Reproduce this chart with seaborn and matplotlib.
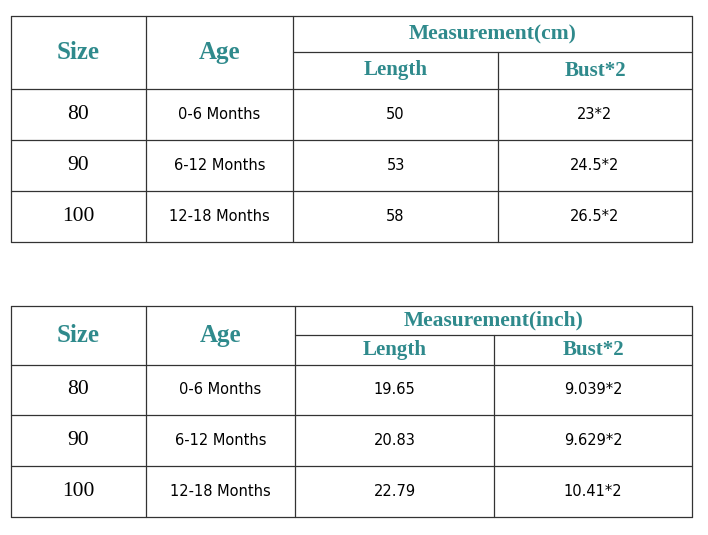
import matplotlib
matplotlib.use("Agg")
import matplotlib.pyplot as plt
import seaborn as sns

sizes = ["80", "90", "100"]
ages = ["0-6 Months", "6-12 Months", "12-18 Months"]
length_cm = ["50", "53", "58"]
bust_cm = ["23*2", "24.5*2", "26.5*2"]
length_in = ["19.65", "20.83", "22.79"]
bust_in = ["9.039*2", "9.629*2", "10.41*2"]
units = ["Measurement(cm)", "Measurement(inch)"]

sns.set_style("white")
teal = "#2f8a8c"
fig = plt.figure(figsize=(7.08, 5.35), dpi=100)
ax = fig.add_axes([0, 0, 1, 1])
ax.set_xlim(0, 708)
ax.set_ylim(535, 0)
ax.axis("off")

def table(xs, ys, unit, lengths, busts):
    x0, x1, x2, x3, x4 = xs
    yt, ysub, yh, r1, r2, yb = ys
    lw = 0.9
    for y in (yt, yh, r1, r2, yb):
        ax.plot([x0, x4], [y, y], color="#333", lw=lw)
    ax.plot([x2, x4], [ysub, ysub], color="#333", lw=lw)
    for x in (x0, x1, x2, x4):
        ax.plot([x, x], [yt, yb], color="#333", lw=lw)
    ax.plot([x3, x3], [ysub, yb], color="#333", lw=lw)
    hf = dict(family="Liberation Serif", weight="bold", color=teal, ha="center", va="center")
    ax.text((x0 + x1) / 2, (yt + yh) / 2, "Size", fontsize=18, **hf)
    ax.text((x1 + x2) / 2, (yt + yh) / 2, "Age", fontsize=18, **hf)
    ax.text((x2 + x4) / 2, (yt + ysub) / 2, unit, fontsize=15.5, **hf)
    ax.text((x2 + x3) / 2, (ysub + yh) / 2, "Length", fontsize=15, **hf)
    ax.text((x3 + x4) / 2, (ysub + yh) / 2, "Bust*2", fontsize=15, **hf)
    rows = [yh, r1, r2, yb]
    for i in range(3):
        yc = (rows[i] + rows[i + 1]) / 2
        ax.text((x0 + x1) / 2, yc, sizes[i], fontsize=15.5, family="Liberation Serif", color="black", ha="center", va="center")
        ax.text((x1 + x2) / 2, yc, ages[i], fontsize=10.5, family="DejaVu Sans", color="black", ha="center", va="center")
        ax.text((x2 + x3) / 2, yc, lengths[i], fontsize=10.5, family="DejaVu Sans", color="black", ha="center", va="center")
        ax.text((x3 + x4) / 2, yc, busts[i], fontsize=10.5, family="DejaVu Sans", color="black", ha="center", va="center")

table((11, 146, 293, 498, 692), (16, 52, 89, 140, 191, 242), units[0], length_cm, bust_cm)
table((11, 146, 295, 494, 692), (306, 335, 365, 415, 466, 517), units[1], length_in, bust_in)

fig.savefig("out.png", dpi=100)
